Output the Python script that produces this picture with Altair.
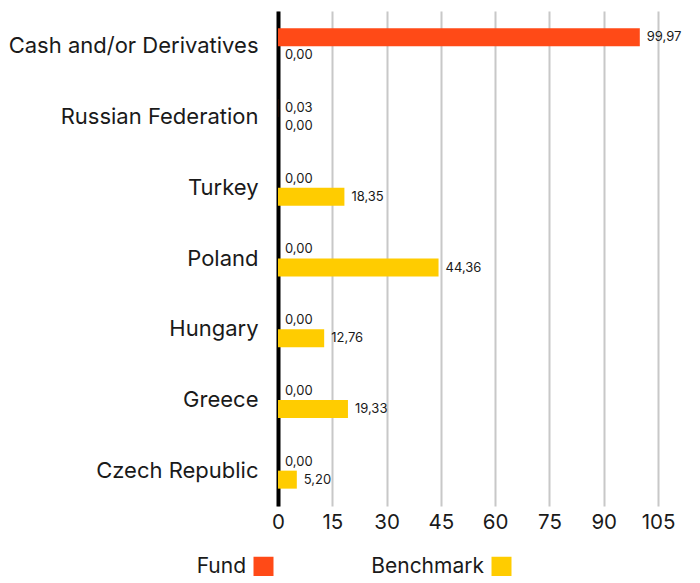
import altair as alt
import pandas as pd

countries = ["Cash and/or Derivatives", "Russian Federation", "Turkey", "Poland",
             "Hungary", "Greece", "Czech Republic"]
fund = [99.97, 0.03, 0.00, 0.00, 0.00, 0.00, 0.00]
benchmark = [0.00, 0.00, 18.35, 44.36, 12.76, 19.33, 5.20]
series = ["Fund", "Benchmark"]
colors = ["#FF4A17", "#FFCC00"]
x_ticks = [0, 15, 30, 45, 60, 75, 90, 105]

rows = []
for c, f, b in zip(countries, fund, benchmark):
    rows.append({"country": c, "series": "Fund", "value": f})
    rows.append({"country": c, "series": "Benchmark", "value": b})
df = pd.DataFrame(rows)

FONT = "Inter"

y_enc = alt.Y("country:N", sort=countries, title=None,
              scale=alt.Scale(paddingInner=0, paddingOuter=0),
              axis=alt.Axis(domainColor="#000000", domainWidth=4, ticks=False,
                            labelFontSize=22, labelColor="#1a1a1a", labelFont=FONT,
                            labelPadding=20, labelLimit=400, grid=False))
yoff = alt.YOffset("series:N", sort=series,
                   scale=alt.Scale(paddingInner=0, paddingOuter=0.964))
x_enc = alt.X("value:Q", title=None,
              scale=alt.Scale(domain=[0, 105], nice=False),
              axis=alt.Axis(values=x_ticks, domain=False, ticks=False,
                            labelFontSize=20.5, labelColor="#1a1a1a", labelFont=FONT,
                            labelPadding=6, labelFlush=False,
                            gridColor="#c8c8c8", gridWidth=2))

base = alt.Chart(df)

bars = base.mark_bar().encode(
    y=y_enc, yOffset=yoff, x=x_enc,
    color=alt.Color("series:N", sort=series,
                    scale=alt.Scale(domain=series, range=colors),
                    legend=alt.Legend(title=None, orient="none", legendX=-25, legendY=545,
                                      direction="horizontal", symbolType="square",
                                      symbolSize=400, symbolStrokeWidth=0,
                                      labelFontSize=21, labelFont=FONT, labelColor="#1a1a1a",
                                      labelOffset={"expr": "-28"}, labelAlign="right",
                                      columnPadding=97)),
)

labels = base.transform_calculate(
    label="replace(format(datum.value, '.2f'), '.', ',')"
).mark_text(align="left", baseline="middle", dx=7, fontSize=13, font=FONT,
            color="#1a1a1a").encode(
    y=alt.Y("country:N", sort=countries), yOffset=alt.YOffset("series:N", sort=series),
    x="value:Q", text="label:N",
)

chart = alt.layer(bars, labels).properties(
    width=380, height=495,
    autosize=alt.AutoSizeParams(type="none"),
    padding={"left": 270, "top": 3, "right": 30, "bottom": 70},
).configure_view(stroke=None)

chart.save("out.html", embed_options={"renderer": "svg", "actions": False})
